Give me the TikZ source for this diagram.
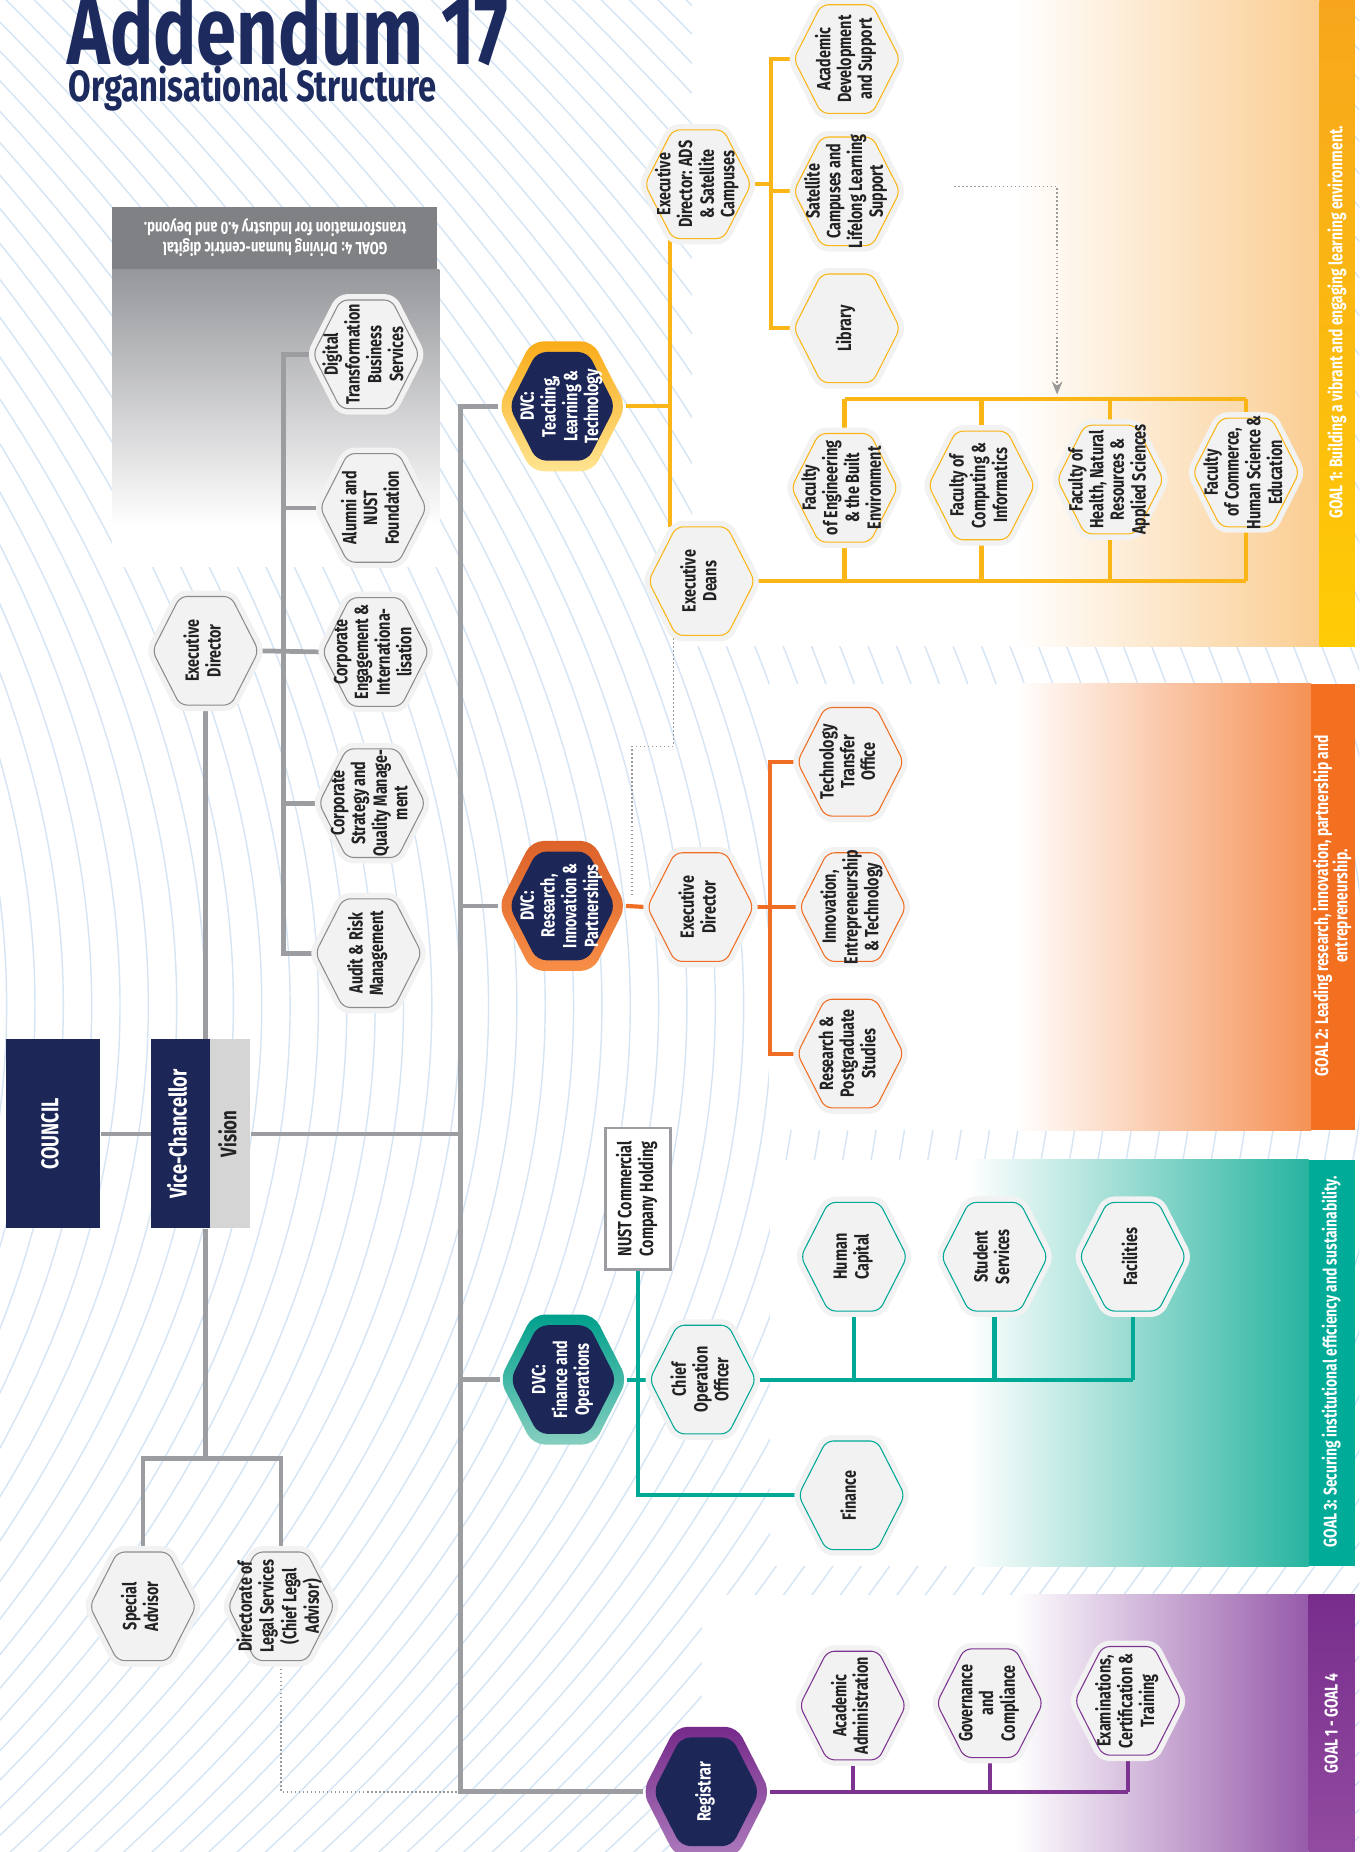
\documentclass[tikz,border=0pt]{standalone}
\usepackage{fontspec}
\setmainfont{Fira Sans}[FakeStretch=0.75]
\usepackage{graphicx}
\usetikzlibrary{shapes.symbols,arrows.meta}

\definecolor{navy}{RGB}{28,39,88}
\definecolor{titleblue}{RGB}{28,42,94}
\definecolor{ink}{RGB}{35,35,38}
\definecolor{hexfill}{RGB}{242,242,242}
\definecolor{wiregrey}{RGB}{155,157,160}
\definecolor{rimgrey}{RGB}{140,140,140}
\definecolor{visiongrey}{RGB}{213,213,213}
\definecolor{goalyel}{RGB}{250,182,22}
\definecolor{goalorg}{RGB}{240,110,35}
\definecolor{goalteal}{RGB}{0,168,150}
\definecolor{goalpur}{RGB}{125,52,145}
\definecolor{hatch}{RGB}{214,229,244}
\definecolor{pan1}{RGB}{250,205,145}
\definecolor{pan2}{RGB}{245,145,85}
\definecolor{pan3}{RGB}{40,180,160}
\definecolor{pan4}{RGB}{150,90,170}
\definecolor{bar1top}{RGB}{247,166,28}
\definecolor{bar1bot}{RGB}{255,204,5}
\definecolor{bar2}{RGB}{243,112,33}
\definecolor{bar3}{RGB}{0,172,152}
\definecolor{bar4top}{RGB}{120,45,140}
\definecolor{bar4bot}{RGB}{145,75,160}
\definecolor{dvcTtop}{RGB}{250,172,25}
\definecolor{dvcTbot}{RGB}{255,228,145}
\definecolor{dvcRtop}{RGB}{220,98,42}
\definecolor{dvcRbot}{RGB}{247,142,70}
\definecolor{dvcFtop}{RGB}{0,160,140}
\definecolor{dvcFbot}{RGB}{135,207,192}
\definecolor{regtop}{RGB}{118,42,138}
\definecolor{regbot}{RGB}{172,122,188}
\definecolor{g4dark}{RGB}{128,129,133}
\definecolor{g4mid}{RGB}{150,151,155}

\pgfdeclarelayer{deco}
\pgfdeclarelayer{wires}
\pgfsetlayers{deco,wires,main}

\newcommand{\hexfont}{\fontsize{16.2}{17.5}\selectfont\bfseries}
\newcommand{\blockfont}{\fontsize{20.5}{22}\selectfont\bfseries}
\newcommand{\barfont}{\fontsize{15.6}{16.5}\selectfont\bfseries}
\newcommand{\hx}[1]{\rotatebox{90}{\makebox[0pt]{\raisebox{-0.25em}[0pt][0pt]{\begin{tabular}{@{}c@{}}#1\end{tabular}}}}}

\begin{document}
\begin{tikzpicture}[x=1pt, y=-1pt,
    hexa/.style={signal, signal to=east and west, signal pointer angle=126,
        minimum width=90pt, minimum height=92pt, inner sep=0pt, outer sep=0pt,
        rounded corners=6pt, line join=round, fill=hexfill, draw=hexfill,
        line width=10pt, font=\hexfont, text=ink},
    hexg/.style={hexa, postaction={draw=rimgrey, line width=0.9pt}},
    hexy/.style={hexa, postaction={draw=goalyel, line width=0.9pt}},
    hexo/.style={hexa, postaction={draw=goalorg, line width=0.9pt}},
    hext/.style={hexa, postaction={draw=goalteal, line width=0.9pt}},
    hexp/.style={hexa, postaction={draw=goalpur, line width=0.9pt}},
    dvc/.style={signal, signal to=east and west, signal pointer angle=126,
        minimum width=108pt, minimum height=110pt, inner sep=0pt, outer sep=0pt,
        rounded corners=10pt},
    dvcin/.style={signal, signal to=east and west, signal pointer angle=126,
        minimum width=90pt, minimum height=92pt, inner sep=0pt, rounded corners=8pt,
        fill=navy, text=white, font=\hexfont},
    block/.style={rectangle, inner sep=0pt, fill=navy, text=white, font=\blockfont},
    nustbox/.style={rectangle, inner sep=0pt, fill=white, draw=wiregrey, line width=2.5pt,
        minimum width=55pt, minimum height=120pt, font=\hexfont, text=ink},
    bartext/.style={rotate=90, text=white, font=\barfont, align=center, inner sep=0pt},
    gline/.style={draw=wiregrey, line width=4pt},
    yline/.style={draw=goalyel, line width=3.5pt},
    oline/.style={draw=goalorg, line width=3.5pt},
    tline/.style={draw=goalteal, line width=3.5pt},
    pline/.style={draw=goalpur, line width=3.5pt},
    dotline/.style={draw=black!40, dotted, line width=1.4pt}]

    \useasboundingbox (0,0) rectangle (1151,1568);

    \begin{pgfonlayer}{deco}
        \fill[white] (0,0) rectangle (1151,1568);
        \begin{scope}
            \clip (0,0) rectangle (1151,1568);
            \foreach \k in {-100,-76,...,1820}
                \draw[hatch, line width=1.2pt] (\k-560,-40) .. controls (\k+110,600) and (\k+110,1150) .. (\k-600,1700);
        \end{scope}
        \fill[white] (586,0) rectangle (1117,547);
        \shade[left color=white, middle color=pan1!30, right color=pan1] (860,0) rectangle (1117,547);
        \shade[top color=bar1top, bottom color=bar1bot] (1117,0) rectangle (1147,547);
        \fill[white] (651,579) rectangle (1110,957);
        \shade[left color=white, middle color=pan2!30, right color=pan2] (860,579) rectangle (1110,957);
        \fill[bar2] (1110,579) rectangle (1147,957);
        \fill[white] (652,982) rectangle (1108,1326);
        \shade[left color=white, middle color=pan3!30, right color=pan3] (820,982) rectangle (1108,1326);
        \fill[bar3] (1108,982) rectangle (1147,1326);
        \fill[white] (594,1350) rectangle (1108,1568);
        \shade[left color=white, middle color=pan4!30, right color=pan4] (860,1350) rectangle (1108,1568);
        \shade[top color=bar4top, bottom color=bar4bot] (1108,1350) rectangle (1147,1568);
        \fill[g4dark] (95,175) rectangle (370,228);
        \shade[top color=g4mid, middle color=black!20, bottom color=white] (95,228) rectangle (372,445);
        \fill[white] (95,445) rectangle (372,480);
    \end{pgfonlayer}

    \node[anchor=base west, inner sep=0pt, text=titleblue, font=\fontsize{81.5}{82}\selectfont\bfseries] (title) at (57,55) {Addendum 17};
    \node[anchor=base west, inner sep=0pt, text=titleblue, font=\fontsize{37}{38}\selectfont\bfseries] (subtitle) at (58,86) {Organisational Structure};
    \node[rotate=180, text=white, font=\fontsize{14.8}{17}\selectfont\bfseries, align=center] (goal4) at (233,201) {GOAL 4: Driving human-centric digital\\transformation for Industry 4.0 and beyond.};

    \node[bartext] (goal1) at (1132,273) {GOAL 1: Building a vibrant and engaging learning environment.};
    \node[bartext] (goal2) at (1128,767) {GOAL 2: Leading research, innovation, partnership and\\entrepreneurship.};
    \node[bartext] (goal3) at (1127,1153) {GOAL 3: Securing institutional efficiency and sustainability.};
    \node[bartext] (goal14) at (1127,1459) {GOAL 1 - GOAL 4};

    \node[block, minimum width=80pt, minimum height=160pt] (council) at (45,960) {\hx{COUNCIL}};
    \node[block, minimum width=50pt, minimum height=160pt] (vc) at (153,960) {\hx{Vice-Chancellor}};
    \node[block, fill=visiongrey, text=ink, minimum width=34pt, minimum height=160pt, font=\fontsize{19}{20}\selectfont\bfseries] (vision) at (195,960) {\hx{Vision}};

    \node[hexg] (edv) at (174,551) {\hx{Executive\\Director}};
    \node[hexg] (dtbs) at (310,300) {\hx{Digital\\Transformation\\Business\\Services}};
    \node[hexg] (alumni) at (316,430) {\hx{Alumni and\\NUST\\Foundation}};
    \node[hexg] (cei) at (318,552) {\hx{Corporate\\Engagement \&\\Internationa-\\lisation}};
    \node[hexg] (csqm) at (315,680) {\hx{Corporate\\Strategy and\\Quality Manage-\\ment}};
    \node[hexg] (arm) at (312,807) {\hx{Audit \& Risk\\Management}};
    \node[hexg] (spadv) at (121,1360) {\hx{Special\\Advisor}};
    \node[hexg] (legal) at (238,1360) {\hx{Directorate of\\Legal Services\\(Chief Legal\\Advisor)}};

    \node[dvc, top color=dvcTtop, bottom color=dvcTbot] (dvcT) at (476,344) {};
    \node[dvcin] (dvcTin) at (dvcT) {\hx{DVC:\\Teaching,\\Learning \&\\Technology}};
    \node[hexy] (edads) at (591,156) {\hx{Executive\\Director: ADS\\\& Satellite\\Campuses}};
    \node[hexy] (ads) at (717,50) {\hx{Academic\\Development\\and Support}};
    \node[hexy] (sat) at (717,162) {\hx{Satellite\\Campuses and\\Lifelong Learning\\Support}};
    \node[hexy] (lib) at (717,278) {\hx{Library}};
    \node[hexy] (deans) at (594,492) {\hx{Executive\\Deans}};
    \node[hexy] (feng) at (715,413) {\hx{Faculty\\of Engineering\\\& the Built\\Environment}};
    \node[hexy] (fci) at (831,411) {\hx{Faculty of\\Computing \&\\Informatics}};
    \node[hexy] (fhn) at (940,406) {\hx{Faculty of\\Health, Natural\\Resources \&\\Applied Sciences}};
    \node[hexy] (fche) at (1055,400) {\hx{Faculty\\of Commerce,\\Human Science \&\\Education}};

    \node[dvc, top color=dvcRtop, bottom color=dvcRbot] (dvcR) at (476,767) {};
    \node[dvcin] (dvcRin) at (dvcR) {\hx{DVC:\\Research,\\Innovation \&\\Partnerships}};
    \node[hexo] (edr) at (593,768) {\hx{Executive\\Director}};
    \node[hexo] (tto) at (720,645) {\hx{Technology\\Transfer\\Office}};
    \node[hexo] (iet) at (722,768) {\hx{Innovation,\\Entrepreneurship\\\& Technology}};
    \node[hexo] (rps) at (720,892) {\hx{Research \&\\Postgraduate\\Studies}};

    \node[dvc, top color=dvcFtop, bottom color=dvcFbot] (dvcF) at (477,1168) {};
    \node[dvcin] (dvcFin) at (dvcF) {\hx{DVC:\\Finance and\\Operations}};
    \node[nustbox] (nust) at (540,1015) {\hx{NUST Commercial\\Company Holding}};
    \node[hext] (coo) at (595,1168) {\hx{Chief\\Operation\\Officer}};
    \node[hext] (hc) at (723,1064) {\hx{Human\\Capital}};
    \node[hext] (ss) at (842,1064) {\hx{Student\\Services}};
    \node[hext] (fac) at (959,1064) {\hx{Facilities}};
    \node[hext] (fin) at (721,1266) {\hx{Finance}};

    \node[dvc, top color=regtop, bottom color=regbot] (reg) at (598,1517) {};
    \node[dvcin] (regin) at (reg) {\hx{Registrar}};
    \node[hexp] (aa) at (722,1444) {\hx{Academic\\Administration}};
    \node[hexp] (gc) at (838,1442) {\hx{Governance\\and\\Compliance}};
    \node[hexp] (ect) at (955,1440) {\hx{Examinations,\\Certification \&\\Training}};

    \begin{pgfonlayer}{wires}
        \coordinate (busx) at (390,0);
        \coordinate (brkx) at (240,0);
        \coordinate (ybus) at (653,0);
        \coordinate (obus) at (652,0);
        \coordinate (split) at (174,1235);
        \coordinate (fbus) at (0,338);
        \coordinate (dotS) at (808,158);
        \coordinate (dotC) at (895,158);
        \coordinate (dotY) at (0,632);
        \coordinate (dotR) at (535,758);

        \draw[gline] (council) -- (vc);
        \draw[gline] (vision) -- (vision -| busx);
        \draw[gline] (dvcT.west) -- (dvcT.west -| busx) -- (reg.west -| busx) -- (reg.west);
        \draw[gline] (dvcR.west) -- (dvcR.west -| busx);
        \draw[gline] (dvcF.west) -- (dvcF.west -| busx);
        \draw[gline] (edv.south) -- (edv.south |- vc.north);
        \draw[gline] (edv.south |- vc.south) -- (split);
        \draw[gline] (spadv.north) |- (split) -| (legal.north);
        \draw[gline] (dtbs.west) -- (dtbs.west -| brkx) -- (arm.west -| brkx) -- (arm.west);
        \draw[gline] (alumni.west) -- (alumni.west -| brkx);
        \draw[gline] (csqm.west) -- (csqm.west -| brkx);
        \draw[gline] (edv.east) -- (cei.west);
        \draw[dotline] (legal.south) |- (reg.west -| busx);

        \draw[yline] (dvcT.east) -- (dvcT.east -| edads.240);
        \draw[yline] (edads.240) -- (edads.240 |- deans.north);
        \draw[yline] (edads.east) -- (edads.east -| ybus);
        \draw[yline] (ads.west) -- (ads.west -| ybus) -- (lib.west -| ybus) -- (lib.west);
        \draw[yline] (sat.west) -- (sat.west -| ybus);
        \draw[yline] (deans.east) -- (deans.east -| fche);
        \draw[yline] (feng.north |- fbus) -- (fche.north |- fbus);
        \foreach \f in {feng,fci,fhn,fche} {
            \draw[yline] (\f.south) -- (\f.south |- deans.east);
            \draw[yline] (\f.north) -- (\f.north |- fbus);
        }
        \draw[dotline, -{Stealth[length=11pt,width=9pt]}, shorten >=4pt] (dotS) -- (dotC) -- (dotC |- fbus);

        \draw[oline] (dvcR.east) -- (edr.west);
        \draw[oline] (edr.east) -- (edr.east -| obus);
        \draw[oline] (tto.west) -- (tto.west -| obus) -- (rps.west -| obus) -- (rps.west);
        \draw[oline] (iet.west) -- (iet.west -| obus);
        \draw[dotline] (deans.240) |- (dotY -| dotR) -- (dotR);

        \draw[tline] (nust.south) |- (fin.west);
        \draw[tline] (dvcF.east) -- (coo.west);
        \draw[tline] (coo.east) -- (coo.east -| fac);
        \foreach \f in {hc,ss,fac}
            \draw[tline] (\f.south) -- (\f.south |- coo.east);

        \draw[pline] (reg.east) -- (reg.east -| ect);
        \foreach \f in {aa,gc,ect}
            \draw[pline] (\f.south) -- (\f.south |- reg.east);
    \end{pgfonlayer}
\end{tikzpicture}
\end{document}
